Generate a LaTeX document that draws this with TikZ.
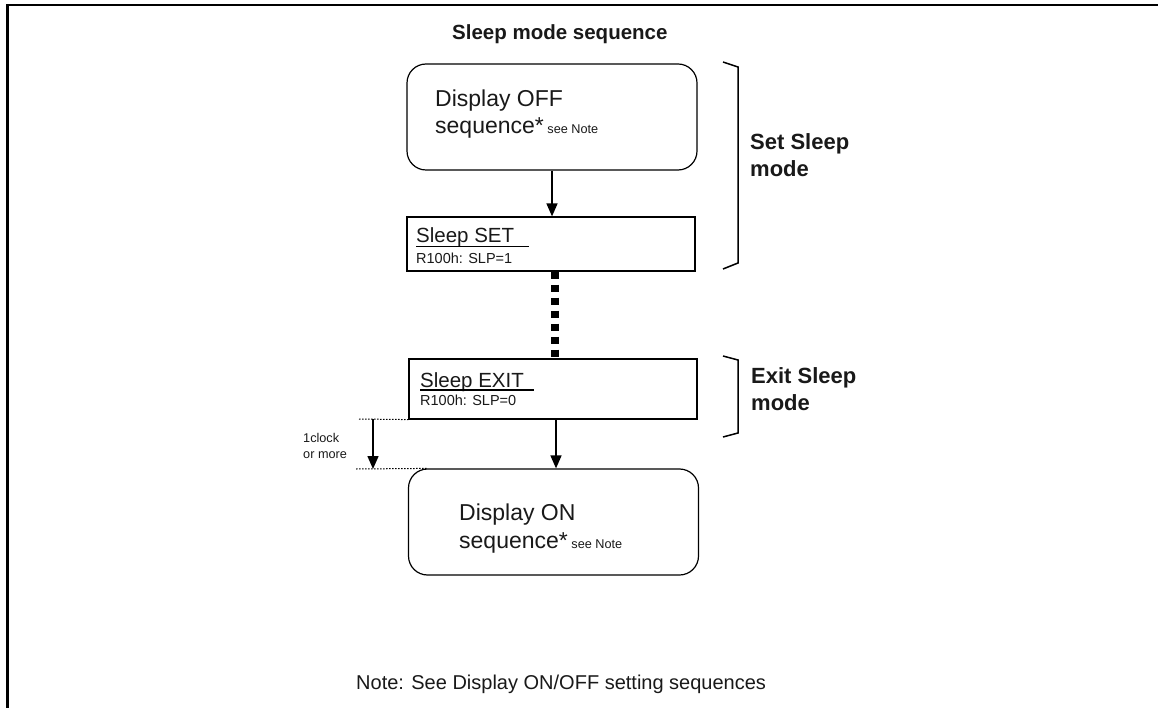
\documentclass[tikz,border=0pt]{standalone}
\usepackage{fontspec}
\setmainfont{Liberation Sans}
\usetikzlibrary{positioning,arrows.meta,calc}

\newcommand{\titlefont}{\fontsize{20.5}{24}\selectfont\bfseries}
\newcommand{\seqfont}{\fontsize{23}{27}\selectfont}
\newcommand{\seefont}{\fontsize{12.7}{15}\selectfont}
\newcommand{\stepfont}{\fontsize{20.5}{24}\selectfont}
\newcommand{\regfont}{\fontsize{14.5}{17}\selectfont}
\newcommand{\sidefont}{\fontsize{22}{27}\selectfont\bfseries}
\newcommand{\clkfont}{\fontsize{12.7}{16}\selectfont}
\newcommand{\notefont}{\fontsize{20}{24}\selectfont}

\begin{document}
\begin{tikzpicture}[
    x=1pt, y=-1pt,
    every node/.style={inner sep=0pt, text=black!90},
    seqbox/.style={draw, line width=1.2pt, rounded corners=19pt, minimum width=290pt, minimum height=106pt},
    regbox/.style={draw, line width=1.2pt, minimum width=288pt},
    flow/.style={-{Triangle[length=13pt,width=11pt]}, line width=1.5pt},
    gap/.style={line width=8pt, dash pattern=on 7pt off 6pt},
    guide/.style={line width=1pt, dash pattern=on 1.5pt off 1.5pt},
    brace/.style={line width=1.5pt},
    txt/.style={anchor=base west}
  ]
  \useasboundingbox (0,0) rectangle (1158,708);
  % frame
  \draw[line width=2.5pt] (7.5,708) -- (7.5,5) -- (1158,5);

  \node[txt] (title) at (452,40) {\titlefont Sleep mode sequence};

  % boxes
  \node[seqbox] (off) at (552,117) {};
  \node[regbox, minimum height=54pt] (set) at (551,244) {};
  \node[regbox, minimum height=60pt] (exit) at (553,389) {};
  \node[seqbox] (on) at (553.5,522) {};

  % box texts
  \node[txt] (offa) at (435,107) {\seqfont Display OFF};
  \node[txt] (offb) at (435,134) {\seqfont sequence*{\seefont\ see Note}};
  \node[txt] (seta) at (416,243) {\stepfont Sleep SET};
  \node[txt] (setb) at (416,264) {\regfont R100h: SLP=1};
  \node[txt] (exita) at (420,387) {\stepfont Sleep EXIT};
  \node[txt] (exitb) at (420,405) {\regfont R100h: SLP=0};
  \node[txt] (ona) at (459,520) {\seqfont Display ON};
  \node[txt] (onb) at (459,548) {\seqfont sequence*{\seefont\ see Note}};
  \draw[line width=1.1pt] ($(seta.base west)+(0,3.5)$) -- ++(113,0);
  \draw[line width=1.1pt] ($(exita.base west)+(0,3)$) -- ++(114,0);

  % connectors
  \draw[flow] (off.south) -- (off.south |- set.north);
  \draw[gap] ($(set.south)+(4,0)$) -- ($(exit.north)+(2,0)$);
  \draw[flow] ($(exit.south)+(3,0)$) -- ($(on.north)+(2.5,0)$);

  % 1 clock gap
  \coordinate (g1) at (359,419);
  \coordinate (g2) at (356,469);
  \draw[guide] (g1) -- (exit.south west);
  \draw[guide] (g2) -- ($(on.north west)+(20,0)$);
  \draw[flow] ($(g1)+(14,0)$) -- ($(g1 |- g2)+(14,0)$);
  \node[txt] (clka) at (303,442) {\clkfont 1clock};
  \node[txt] (clkb) at (303,458) {\clkfont or more};

  % side brackets
  \draw[brace] (723,62) -- (738,67) -- (738,263) -- (723,269);
  \draw[brace] (723,356) -- (738,360) -- (738,433) -- (723,437);
  \node[txt] (sa) at (750,150) {\sidefont Set Sleep};
  \node[txt] (sb) at (750,177) {\sidefont mode};
  \node[txt] (ea) at (751,383) {\sidefont Exit Sleep};
  \node[txt] (eb) at (751,410) {\sidefont mode};

  \node[txt] (note) at (356,689) {\notefont Note: See Display ON/OFF setting sequences};
\end{tikzpicture}
\end{document}
